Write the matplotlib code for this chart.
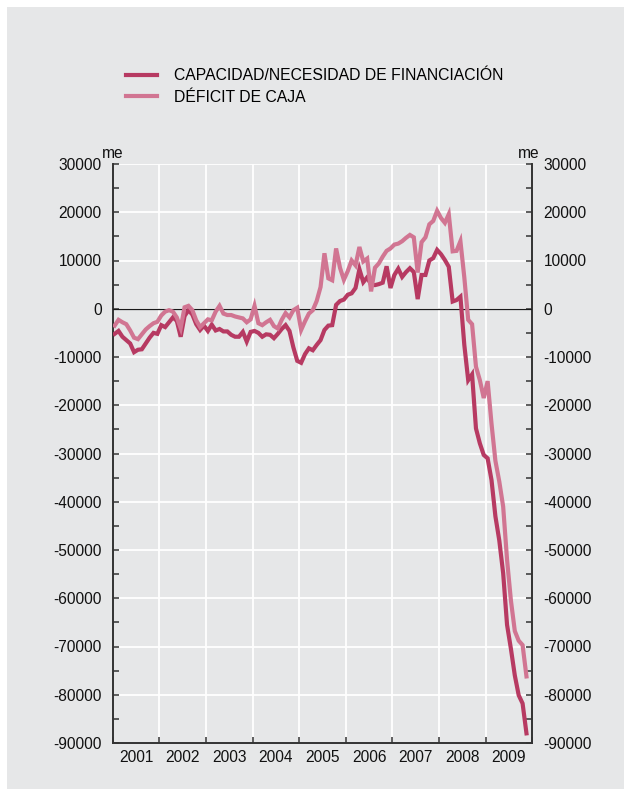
import numpy as np
import matplotlib
matplotlib.use("Agg")
import matplotlib.pyplot as plt
from matplotlib.patches import Rectangle
from matplotlib.ticker import MultipleLocator, FixedLocator, NullFormatter, FixedFormatter

plt.rcParams['font.family'] = ['Liberation Sans', 'DejaVu Sans']

# Monthly series, Jan 2001 - Nov 2009 (millones de euros, thousands here)
capacidad = [
    -5.2, -4.6, -5.8, -6.5, -7.2, -9.0, -8.5, -8.4, -7.2, -6.0, -5.0, -5.2,      # 2001
    -3.4, -3.8, -2.8, -1.8, -2.5, -5.8, -1.5, -0.3, -1.2, -3.2, -4.4, -3.5,      # 2002
    -4.6, -3.3, -4.5, -4.2, -4.7, -4.7, -5.4, -5.8, -5.8, -4.8, -6.8, -4.8,      # 2003
    -4.6, -5.0, -5.8, -5.3, -5.4, -6.1, -5.2, -4.2, -3.4, -4.6, -8.0, -10.8,     # 2004
    -11.2, -9.4, -8.2, -8.6, -7.5, -6.5, -4.4, -3.5, -3.4, 0.8, 1.6, 1.9,        # 2005
    2.9, 3.2, 4.3, 8.2, 5.5, 6.5, 5.0, 4.9, 5.1, 5.4, 8.8, 4.3,                  # 2006
    7.0, 8.3, 6.6, 7.6, 8.4, 7.6, 2.0, 7.0, 7.0, 10.0, 10.5, 12.2,               # 2007
    11.3, 10.1, 8.7, 1.5, 1.8, 2.5, -7.5, -14.8, -13.6, -24.8, -27.9, -30.3,     # 2008
    -31.0, -35.5, -43.0, -48.0, -54.8, -65.5, -70.5, -76.0, -80.1, -81.8, -88.0, # 2009
]
deficit_caja = [
    -3.5, -2.3, -2.8, -3.2, -4.5, -6.0, -6.3, -5.3, -4.3, -3.6, -3.0, -2.7,      # 2001
    -1.4, -0.6, -0.3, -0.6, -1.8, -4.0, 0.3, 0.6, -0.3, -2.4, -3.8, -3.0,        # 2002
    -2.2, -2.4, -0.6, 0.6, -1.0, -1.3, -1.3, -1.6, -1.8, -2.0, -2.8, -2.2,       # 2003
    0.6, -3.0, -3.4, -2.8, -2.3, -3.6, -4.1, -2.3, -0.9, -1.8, -0.3, 0.2,        # 2004
    -4.4, -2.6, -1.0, -0.3, 1.6, 4.5, 11.5, 6.3, 5.9, 12.5, 8.5, 6.0,            # 2005
    7.8, 10.0, 9.0, 12.8, 9.8, 10.4, 3.6, 8.5, 9.4, 10.8, 12.0, 12.5,            # 2006
    13.3, 13.5, 14.0, 14.7, 15.3, 14.8, 7.5, 13.8, 14.8, 17.5, 18.2, 20.3,       # 2007
    18.8, 17.8, 19.6, 11.9, 12.0, 14.0, 6.5, -2.3, -3.2, -12.0, -14.8, -18.5,    # 2008
    -15.0, -23.8, -31.5, -35.8, -41.0, -52.0, -60.5, -66.8, -68.8, -69.7, -76.2, # 2009
]
years = [2001, 2002, 2003, 2004, 2005, 2006, 2007, 2008, 2009]
y_ticks = [30000, 20000, 10000, 0, -10000, -20000, -30000, -40000,
           -50000, -60000, -70000, -80000, -90000]
labels = ["CAPACIDAD/NECESIDAD DE FINANCIACIÓN", "DÉFICIT DE CAJA"]

cap = np.array(capacidad) * 1000
dc = np.array(deficit_caja) * 1000
t = years[0] + (np.arange(len(cap)) + 0.5) / 12.0

BG = "#e6e7e8"
C_DARK = "#b73a62"
C_LIGHT = "#d17592"
AXC = "#333333"
TXT = "#111111"
FS = 11.2

fig = plt.figure(figsize=(6.31, 7.96), dpi=100, facecolor="white")
panel = Rectangle((7 / 631, 7 / 796), 617 / 631, 782 / 796,
                  transform=fig.transFigure, facecolor=BG,
                  edgecolor="none", zorder=-10)
fig.add_artist(panel)

ax = fig.add_axes([112.7 / 631, 53 / 796, 419.6 / 631, 579 / 796])
ax.set_facecolor(BG)
ax.set_zorder(1)

l1, = ax.plot(t, cap, color=C_DARK, lw=3.0, solid_joinstyle="miter", zorder=4)
l2, = ax.plot(t, dc, color=C_LIGHT, lw=3.0, solid_joinstyle="miter", zorder=4)
ax.axhline(0, color="#1a1a1a", lw=0.9, zorder=3)

ax.set_xlim(2001, 2010)
ax.set_ylim(-90000, 30000)

# grid
for yv in y_ticks:
    ax.axhline(yv, color="white", lw=1.3, zorder=1)
for xv in years[1:]:
    ax.axvline(xv, color="white", lw=1.3, zorder=1)

# spines
for s in ["left", "right", "bottom"]:
    ax.spines[s].set_color(AXC)
    ax.spines[s].set_linewidth(1.4)
ax.spines["top"].set_visible(False)

# y ticks on both sides
ax.yaxis.set_major_locator(FixedLocator(y_ticks))
ax.yaxis.set_minor_locator(MultipleLocator(5000))
ax.yaxis.set_major_formatter(FixedFormatter([str(v) for v in y_ticks]))
ax.tick_params(axis="y", which="both", direction="in", left=True, right=True,
               labelleft=True, labelright=True, color=AXC, width=1.1,
               length=4, labelsize=FS, labelcolor=TXT, pad=8)

# x ticks: boundaries unlabeled, year labels centred
ax.xaxis.set_major_locator(FixedLocator(list(range(2001, 2011))))
ax.xaxis.set_major_formatter(NullFormatter())
ax.xaxis.set_minor_locator(FixedLocator([y + 0.5 for y in years]))
ax.xaxis.set_minor_formatter(FixedFormatter([str(y) for y in years]))
ax.tick_params(axis="x", which="major", direction="in", length=4, width=1.1,
               color=AXC, top=False)
ax.tick_params(axis="x", which="minor", length=0, pad=5, labelsize=FS,
               labelcolor=TXT)

# unit labels
fig.text(112.5 / 631, 1 - 153 / 796, "me", ha="center", va="center",
         fontsize=FS, color=TXT)
fig.text(529 / 631, 1 - 153 / 796, "me", ha="center", va="center",
         fontsize=FS, color=TXT)

fig.legend([l1, l2], labels, loc="upper left",
           bbox_to_anchor=(126 / 631, 1 - 68 / 796), frameon=False,
           fontsize=11.3, handlelength=2.0, handletextpad=1.05,
           labelspacing=0.42, borderpad=0, borderaxespad=0)

fig.savefig("out.png", dpi=100, facecolor="white")
